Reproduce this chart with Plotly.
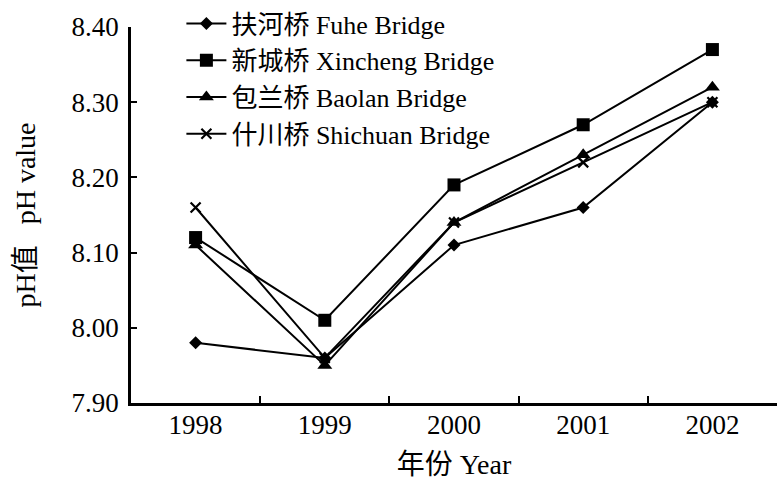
import plotly.graph_objects as go

# pH readings at four river bridges, 1998-2002
years = ["1998", "1999", "2000", "2001", "2002"]
fuhe = [7.98, 7.96, 8.11, 8.16, 8.30]
xincheng = [8.12, 8.01, 8.19, 8.27, 8.37]
baolan = [8.11, 7.95, 8.14, 8.23, 8.32]
shichuan = [8.16, 7.96, 8.14, 8.22, 8.30]

series_names = ["扶河桥 Fuhe Bridge", "新城桥 Xincheng Bridge",
                "包兰桥 Baolan Bridge", "什川桥 Shichuan Bridge"]
y_ticks = [7.90, 8.00, 8.10, 8.20, 8.30, 8.40]

FONT = "Liberation Serif, Noto Sans CJK SC, serif"

fig = go.Figure()
styles = [
    dict(symbol="diamond", size=10),
    dict(symbol="square", size=13),
    dict(symbol="triangle-up", size=13),
    dict(symbol="x-thin", size=10, line=dict(width=2.2, color="black")),
]
for name, vals, mk in zip(series_names, [fuhe, xincheng, baolan, shichuan], styles):
    fig.add_trace(go.Scatter(
        x=years, y=vals, name=name, mode="lines+markers",
        line=dict(color="black", width=2),
        marker=dict(color="black", **mk),
    ))

fig.update_layout(
    width=778, height=485,
    margin=dict(l=131, r=1, t=26, b=82),
    paper_bgcolor="white", plot_bgcolor="white",
    font=dict(family=FONT, size=26, color="black"),
    showlegend=True,
    legend=dict(x=0.078, y=1.07, xanchor="left", yanchor="top",
                bgcolor="rgba(0,0,0,0)",
                font=dict(family=FONT, size=26),
                tracegroupgap=0, itemwidth=40),
    xaxis=dict(
        type="category", range=[-0.5, 4.5], tickson="boundaries",
        ticks="inside", ticklen=7, tickwidth=2, tickcolor="black",
        ticklabelstandoff=-4,
        showline=True, linecolor="black", linewidth=2.5,
        showgrid=False, zeroline=False,
        tickfont=dict(family=FONT, size=27),
        title=dict(text="年份 Year", font=dict(family=FONT, size=28), standoff=16),
    ),
    yaxis=dict(
        range=[7.90, 8.40], tickvals=y_ticks,
        ticktext=[f"{v:.2f}" for v in y_ticks],
        ticks="inside", ticklen=6, tickwidth=2, tickcolor="black",
        ticklabelstandoff=4,
        showline=True, linecolor="black", linewidth=2.5,
        showgrid=False, zeroline=False,
        tickfont=dict(family=FONT, size=27),
        title=dict(text="pH值   pH value", font=dict(family=FONT, size=28), standoff=28),
    ),
)

fig.write_html("out.html")
